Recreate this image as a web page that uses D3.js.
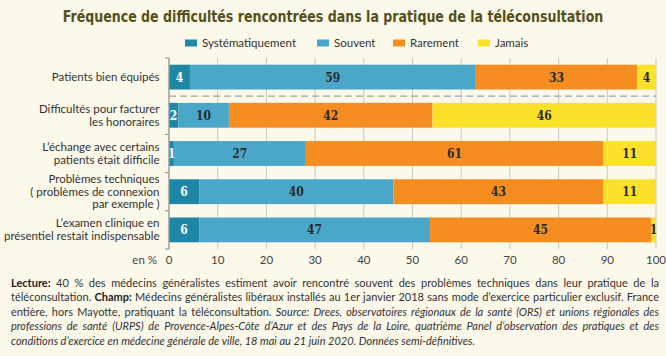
<!DOCTYPE html>
<html><head><meta charset="utf-8">
<script src="https://cdn.jsdelivr.net/npm/d3@7"></script>
<style>
html,body{margin:0;padding:0;background:#fcf8ea;}
svg{display:block;}
</style></head>
<body>
<svg id="chart" width="666" height="356"></svg>
<script>
// ---- data ----
const categories = ["Patients bien équipés","Difficultés pour facturer les honoraires","L’échange avec certains patients était difficile","Problèmes techniques (problèmes de connexion par exemple)","L’examen clinique en présentiel restait indispensable"];
const categoryLines = [["Patients bien équipés"],["Difficultés pour facturer","les honoraires"],["L’échange avec certains","patients était difficile"],["Problèmes techniques","( problèmes de connexion","par exemple )"],["L’examen clinique en","présentiel restait indispensable"]];
const seriesNames = ["Systématiquement","Souvent","Rarement","Jamais"];
const systematiquement = [4.3, 1.9, 1.0, 6.2, 6.2];
const souvent = [58.7, 10.4, 27.1, 39.9, 47.4];
const rarement = [33.1, 41.8, 61.1, 43.1, 45.4];
const jamais = [3.9, 45.9, 10.8, 10.8, 1.0];
const xTicks = [0,10,20,30,40,50,60,70,80,90,100];
const colors = ["#1f87a6","#4ba7ca","#f68d20","#fbe12c"];
const title = "Fréquence de difficultés rencontrées dans la pratique de la téléconsultation";
const noteLines = [
  [["b","Lecture: "],["n","40 % des médecins généralistes estiment avoir rencontré souvent des problèmes techniques dans leur pratique de la"]],
  [["n","téléconsultation. "],["b","Champ: "],["n","Médecins généralistes libéraux installés au 1er janvier 2018 sans mode d’exercice particulier exclusif. France"]],
  [["n","entière, hors Mayotte, pratiquant la téléconsultation. "],["i","Source: Drees, observatoires régionaux de la santé (ORS) et unions régionales des"]],
  [["i","professions de santé (URPS) de Provence-Alpes-Côte d’Azur et des Pays de la Loire, quatrième Panel d’observation des pratiques et des"]],
  [["i","conditions d’exercice en médecine générale de ville, 18 mai au 21 juin 2020. Données semi-définitives."]]
];

// ---- build ----
const svg = d3.select("#chart");
const font = "Lato, 'Open Sans', sans-serif";
const rows = categories.map((c,i)=>({cat:c, "Systématiquement":systematiquement[i], "Souvent":souvent[i], "Rarement":rarement[i], "Jamais":jamais[i]}));
const stacked = d3.stack().keys(seriesNames)(rows);

const x = d3.scaleLinear().domain([0,100]).range([169,656]);
const y = d3.scaleBand().domain(categories).range([58,249]).paddingInner(0.35).paddingOuter(0.175);
const step = y.step();

// title: condensed by a horizontal scale so its width matches the reference
const tg = svg.append("g");
const tt = tg.append("text").attr("x",0).attr("y",0).attr("text-anchor","middle")
  .attr("font-family","'DejaVu Sans Condensed','Liberation Sans Narrow',sans-serif")
  .attr("font-weight","bold").attr("font-size",16.5).attr("fill","#55501a").text(title);
const tw = tt.node().getComputedTextLength();
tg.attr("transform", `translate(333,22) scale(${541/tw},1)`);

// legend
const legX = [185,317,393,478];
seriesNames.forEach((s,i)=>{
  svg.append("rect").attr("x",legX[i]).attr("y",39.5).attr("width",12).attr("height",7).attr("fill",colors[i]);
  svg.append("text").attr("x",legX[i]+17).attr("y",47).attr("font-family",font).attr("font-size",11.5)
    .attr("fill","#333").text(s);
});

// grid
svg.append("g").selectAll("line").data(xTicks.filter(d=>d>0)).join("line")
  .attr("x1",d=>x(d)).attr("x2",d=>x(d)).attr("y1",58).attr("y2",249)
  .attr("stroke","#cbc7bb").attr("stroke-width",1);

// bars
const gBars = svg.append("g");
stacked.forEach((ser,si)=>{
  gBars.append("g").attr("fill",colors[si]).selectAll("rect").data(ser).join("rect")
    .attr("x",d=>x(d[0])).attr("width",d=>x(d[1])-x(d[0]))
    .attr("y",d=>y(d.data.cat)).attr("height",y.bandwidth());
});
// value labels
stacked.forEach((ser,si)=>{
  gBars.append("g").selectAll("text").data(ser).join("text")
    .attr("x",d=>(x(d[0])+x(d[1]))/2).attr("y",d=>y(d.data.cat)+y.bandwidth()/2+4.5)
    .attr("text-anchor","middle").attr("font-family","'DejaVu Serif Condensed','Liberation Serif',serif")
    .attr("font-weight","bold").attr("font-size",12)
    .attr("fill",si===0?"#ffffff":"#2a2a2a")
    .text(d=>Math.round(d[1]-d[0]));
});

// dashed separator
const sepY = 58 + step;
svg.append("line").attr("x1",x(0)).attr("x2",x(100)).attr("y1",sepY).attr("y2",sepY)
  .attr("stroke","#a3a29c").attr("stroke-width",1.3).attr("stroke-dasharray","7,4");

// y axis line and boundary ticks
svg.append("line").attr("x1",x(0)).attr("x2",x(0)).attr("y1",58).attr("y2",249).attr("stroke","#9a9890").attr("stroke-width",1.4);
const bounds = d3.range(0,6).map(i=>58+i*step).filter((d,i)=>i!==1);
svg.append("g").selectAll("line").data(bounds).join("line")
  .attr("x1",x(0)-4).attr("x2",x(0)).attr("y1",d=>d).attr("y2",d=>d)
  .attr("stroke","#9a9890").attr("stroke-width",1.2);

// category labels
categoryLines.forEach((lines,i)=>{
  const cy = y(categories[i]) + y.bandwidth()/2;
  const lh = lines.length===3 ? 12.3 : 13;
  const t = svg.append("text").attr("text-anchor","end").attr("font-family",font).attr("font-size",11.5).attr("fill","#333");
  lines.forEach((l,j)=>{
    t.append("tspan").attr("x",159.5).attr("y",cy + 4 + (j-(lines.length-1)/2)*lh).text(l);
  });
});

// x tick labels
svg.append("g").selectAll("text").data(xTicks).join("text")
  .attr("x",d=>x(d)).attr("y",264).attr("text-anchor","middle")
  .attr("font-family",font).attr("font-size",11.5).attr("fill","#444").text(d=>d);
svg.append("text").attr("x",157).attr("y",264).attr("text-anchor","end")
  .attr("font-family",font).attr("font-size",11.5).attr("fill","#444").text("en %");

// footnote (justified)
noteLines.forEach((parts,i)=>{
  const t = svg.append("text").attr("x",11).attr("y",286.5+i*14.6)
    .attr("font-family",font).attr("font-size",11).attr("fill","#333");
  parts.forEach(([k,s])=>{
    const ts = t.append("tspan").text(s);
    if(k==="b") ts.attr("font-weight","bold").attr("fill","#222");
    if(k==="i") ts.attr("font-style","italic");
  });
  if(i<noteLines.length-1){
    const w = t.node().getComputedTextLength();
    const nSpaces = parts.map(p=>p[1]).join("").split(" ").length-1;
    const extra = (648 - w)/nSpaces;
    t.attr("word-spacing", extra);
  }
});
</script>
</body></html>
